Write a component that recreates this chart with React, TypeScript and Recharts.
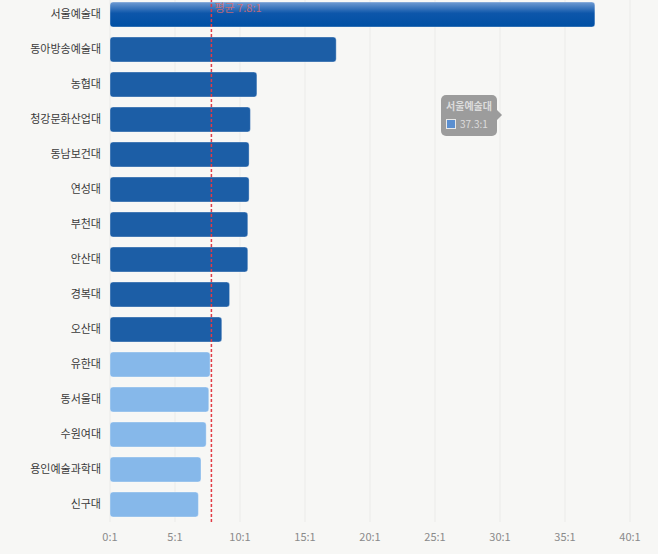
import { BarChart, Bar, XAxis, YAxis, CartesianGrid, Cell, ReferenceLine, Tooltip } from 'recharts';

const schools = [
  '서울예술대',
  '동아방송예술대',
  '농협대',
  '청강문화산업대',
  '동남보건대',
  '연성대',
  '부천대',
  '안산대',
  '경복대',
  '오산대',
  '유한대',
  '동서울대',
  '수원여대',
  '용인예술과학대',
  '신구대',
];
const ratios = [37.3, 17.4, 11.3, 10.8, 10.7, 10.7, 10.6, 10.6, 9.2, 8.6, 7.7, 7.6, 7.4, 7.0, 6.8];
const xTicks = [0, 5, 10, 15, 20, 25, 30, 35, 40];
const average = 7.8;

const DARK = '#1c5ea6';
const LIGHT = '#86b8ea';
const FONT = '"Noto Sans CJK KR", "Noto Sans", sans-serif';

const chartData = schools.map((name, i) => ({ name, value: ratios[i] }));

function barFill(i: number) {
  if (i === 0) return 'url(#topBarGrad)';
  return i < 10 ? DARK : LIGHT;
}

function TipBox({ payload }: any) {
  const item = payload?.[0];
  if (!item) return null;
  return (
    <div style={{ position: 'relative', fontFamily: FONT }}>
      <div
        style={{
          background: 'rgba(140,140,140,0.85)',
          borderRadius: 5,
          padding: '4px 5px 5px 5px',
          whiteSpace: 'nowrap',
          color: '#dcdcdc',
          fontSize: 10,
          lineHeight: '14px',
        }}
      >
        <div style={{ fontWeight: 700 }}>{item.payload.name}</div>
        <div style={{ display: 'flex', alignItems: 'center', marginTop: 4 }}>
          <span
            style={{
              display: 'inline-block',
              width: 8,
              height: 8,
              background: '#5b8fd0',
              border: '1px solid #e8e8e8',
              marginRight: 4,
            }}
          />
          {item.value}:1
        </div>
      </div>
      <div
        style={{
          position: 'absolute',
          right: -5,
          top: 15,
          width: 0,
          height: 0,
          borderTop: '5px solid transparent',
          borderBottom: '5px solid transparent',
          borderLeft: '5px solid rgba(140,140,140,0.85)',
        }}
      />
    </div>
  );
}

function AvgLabel({ viewBox }: any) {
  return (
    <text x={viewBox.x + 3} y={viewBox.y + 15} fill="#e06a6a" fillOpacity={0.85} fontSize={11} fontFamily={FONT}>
      평균 {average}:1
    </text>
  );
}

export default function App() {
  return (
    <div
      style={{
        position: 'absolute',
        left: 0,
        top: 0,
        width: 658,
        height: 554,
        background: '#f7f7f5',
        overflow: 'hidden',
      }}
    >
      <div style={{ position: 'absolute', left: 0, top: -3 }}>
        <BarChart
          width={658}
          height={557}
          data={chartData}
          layout="vertical"
          margin={{ top: 0, right: 28, bottom: 2, left: 0 }}
        >
          <defs>
            <linearGradient id="topBarGrad" x1="0" y1="0" x2="0" y2="1">
              <stop offset="0%" stopColor="#6f9bd3" />
              <stop offset="45%" stopColor="#0d56aa" />
              <stop offset="100%" stopColor="#0050a4" />
            </linearGradient>
          </defs>
          <CartesianGrid horizontal={false} stroke="#ebebe9" />
          <XAxis
            type="number"
            domain={[0, 40]}
            ticks={xTicks}
            tickFormatter={(v) => `${v}:1`}
            axisLine={false}
            tickLine={false}
            tickSize={0}
            tickMargin={11}
            height={30}
            tick={{ fontSize: 11, fill: '#8a8a8a', fontFamily: FONT }}
          />
          <YAxis
            type="category"
            dataKey="name"
            width={110}
            axisLine={false}
            tickLine={false}
            tickSize={0}
            tickMargin={9}
            interval={0}
            tick={{ fontSize: 11, fill: '#3a3a3a', fontFamily: FONT }}
          />
          <Tooltip
            content={<TipBox />}
            defaultIndex={0}
            cursor={false}
            isAnimationActive={false}
            position={{ x: 441, y: 98 }}
          />
          <Bar
            dataKey="value"
            barSize={25}
            radius={3}
            isAnimationActive={false}
            stroke="rgba(255,255,255,0.35)"
            strokeWidth={1}
          >
            {chartData.map((d, i) => (
              <Cell key={d.name} fill={barFill(i)} />
            ))}
          </Bar>
          <ReferenceLine
            x={average}
            stroke="#e23b44"
            strokeOpacity={1}
            strokeDasharray="3 2"
            strokeWidth={1.5}
            label={<AvgLabel />}
          />
        </BarChart>
      </div>
    </div>
  );
}
